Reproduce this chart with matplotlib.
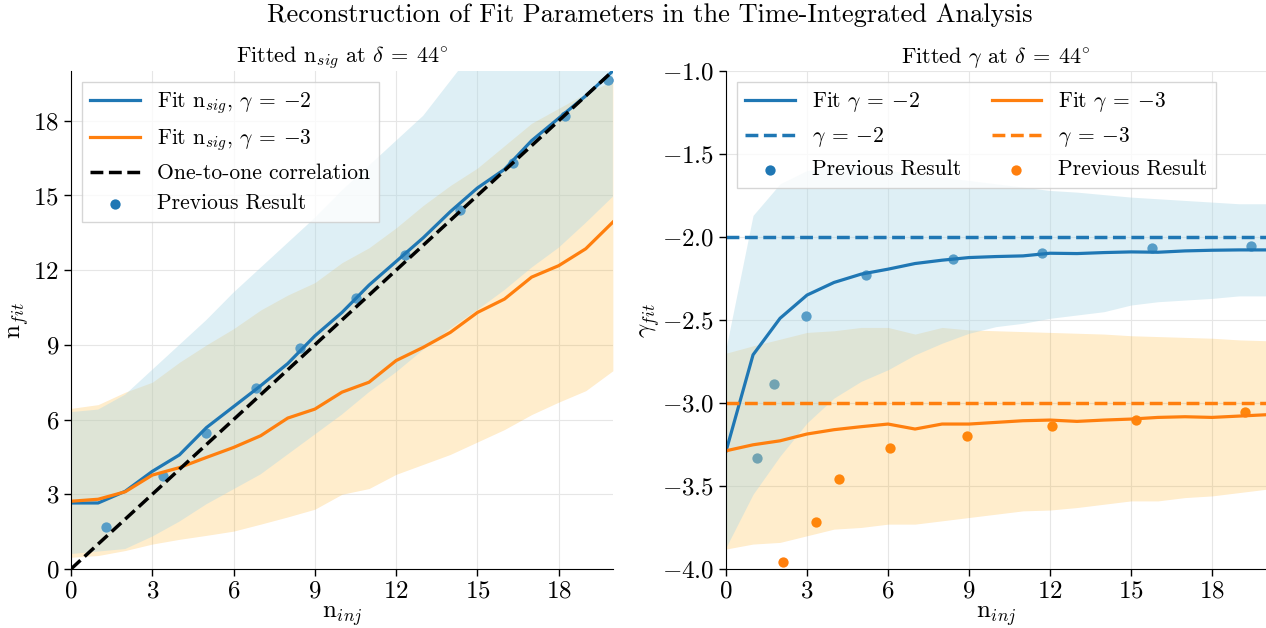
import numpy as np
import matplotlib
matplotlib.use("Agg")
import matplotlib.pyplot as plt

plt.rcParams['font.family'] = 'serif'
plt.rcParams['font.serif'] = ['cmr10']
plt.rcParams['mathtext.fontset'] = 'cm'
plt.rcParams['axes.formatter.use_mathtext'] = True

# injected signal events
n_inj = np.arange(0, 21)

# left panel: fitted n_sig
nsig_fit_g2 = [2.65, 2.65, 3.12, 3.92, 4.58, 5.68, 6.52, 7.36, 8.25, 9.36, 10.3,
               11.4, 12.35, 13.3, 14.35, 15.3, 16.05, 17.2, 18.1, 19.0, 20.0]
nsig_lo_g2 = [0.6, 0.7, 0.8, 1.3, 1.9, 2.6, 3.2, 3.8, 4.6, 5.4, 6.2,
              7.1, 7.9, 8.8, 9.65, 10.4, 11.2, 12.1, 12.9, 13.9, 14.95]
nsig_hi_g2 = [6.3, 6.4, 7.0, 8.0, 9.0, 10.0, 11.1, 12.1, 13.1, 14.1, 15.2,
              16.2, 17.2, 18.2, 19.6, 21.0, 22.0, 23.0, 24.0, 25.0, 26.0]
nsig_fit_g3 = [2.72, 2.8, 3.1, 3.77, 4.07, 4.48, 4.88, 5.35, 6.06, 6.42, 7.1,
               7.5, 8.37, 8.9, 9.5, 10.3, 10.84, 11.72, 12.18, 12.86, 13.93]
nsig_lo_g3 = [0.47, 0.54, 0.74, 1.0, 1.19, 1.35, 1.52, 1.8, 2.09, 2.4, 3.0,
              3.23, 3.8, 4.2, 4.6, 5.1, 5.6, 6.2, 6.7, 7.16, 7.96]
nsig_hi_g3 = [6.45, 6.6, 7.1, 7.5, 8.3, 9.0, 9.65, 10.4, 11.0, 11.5, 12.3,
              12.9, 13.7, 14.6, 15.4, 16.1, 17.0, 17.9, 18.5, 19.1, 19.6]
prev_nsig_x = [1.28, 3.39, 5.0, 6.83, 8.47, 10.52, 12.34, 14.35, 16.33, 18.24, 19.83]
prev_nsig_y = [1.7, 3.75, 5.46, 7.26, 8.88, 10.87, 12.6, 14.43, 16.29, 18.2, 19.64]

# right panel: fitted gamma
gamma_fit_g2 = [-3.29, -2.71, -2.49, -2.35, -2.274, -2.224, -2.194, -2.16, -2.14, -2.124, -2.118,
                -2.114, -2.098, -2.10, -2.094, -2.09, -2.092, -2.084, -2.08, -2.078, -2.078]
gamma_lo_g2 = [-3.87, -3.55, -3.32, -3.12, -2.97, -2.87, -2.80, -2.71, -2.64, -2.58, -2.54,
               -2.52, -2.49, -2.47, -2.45, -2.41, -2.39, -2.38, -2.37, -2.355, -2.355]
gamma_hi_g2 = [-2.67, -1.87, -1.68, -1.60, -1.58, -1.58, -1.60, -1.62, -1.64, -1.66, -1.68,
               -1.70, -1.72, -1.73, -1.745, -1.76, -1.77, -1.78, -1.79, -1.80, -1.80]
gamma_fit_g3 = [-3.288, -3.252, -3.228, -3.187, -3.161, -3.143, -3.127, -3.157, -3.127, -3.127, -3.117,
                -3.107, -3.103, -3.111, -3.103, -3.097, -3.087, -3.083, -3.087, -3.079, -3.071]
gamma_lo_g3 = [-3.88, -3.85, -3.84, -3.80, -3.76, -3.75, -3.73, -3.73, -3.71, -3.69, -3.67,
               -3.65, -3.645, -3.63, -3.61, -3.59, -3.59, -3.57, -3.56, -3.54, -3.52]
gamma_hi_g3 = [-2.70, -2.656, -2.616, -2.575, -2.565, -2.545, -2.545, -2.585, -2.545, -2.56, -2.565,
               -2.57, -2.575, -2.58, -2.585, -2.595, -2.6, -2.605, -2.61, -2.62, -2.625]
prev_g2_x = [1.15, 1.78, 2.97, 5.19, 8.42, 11.72, 15.79, 19.45]
prev_g2_y = [-3.33, -2.886, -2.479, -2.23, -2.13, -2.094, -2.066, -2.054]
prev_g3_x = [2.1, 3.32, 4.17, 6.09, 8.91, 12.08, 15.18, 19.24]
prev_g3_y = [-3.96, -3.72, -3.46, -3.27, -3.197, -3.14, -3.105, -3.057]

fig = plt.figure(figsize=(12.66, 6.28), dpi=100)
ax1 = fig.add_axes([0.0561, 0.094, 0.428, 0.793])
ax2 = fig.add_axes([0.5735, 0.094, 0.4265, 0.793])

for ax in (ax1, ax2):
    ax.grid(True, color='#e6e6e6', lw=0.8, zorder=0)
    ax.set_axisbelow(True)
    ax.spines['top'].set_visible(False)
    ax.spines['right'].set_visible(False)
    ax.tick_params(labelsize=18, direction='out', length=5, width=1)
    ax.set_xlim(0, 20)
    ax.set_xticks(np.arange(0, 19, 3))
    ax.set_xlabel(r'n$_{inj}$', fontsize=18, labelpad=1)

# left: orange band, points, blue band, lines on top
ax1.fill_between(n_inj, nsig_lo_g3, nsig_hi_g3, color='orange', alpha=0.2, lw=0, zorder=1)
ax1.scatter(prev_nsig_x, prev_nsig_y, color='tab:blue', s=55, lw=0, zorder=1,
            label='Previous Result')
ax1.fill_between(n_inj, nsig_lo_g2, nsig_hi_g2, color='lightblue', alpha=0.4, lw=0, zorder=1)
ax1.plot(n_inj, nsig_fit_g2, color='tab:blue', lw=2.3, label=r'Fit n$_{sig}$, $\gamma \:=\: -2$')
ax1.plot(n_inj, nsig_fit_g3, color='tab:orange', lw=2.3, label=r'Fit n$_{sig}$, $\gamma \:=\: -3$')
ax1.plot([0, 20], [0, 20], color='black', ls='--', lw=2.5, label='One-to-one correlation')
ax1.set_ylim(0, 20)
ax1.set_yticks(np.arange(0, 19, 3))
ax1.set_ylabel(r'n$_{fit}$', fontsize=18, labelpad=2)
ax1.set_title(r'Fitted n$_{sig}$ at $\delta \:=\: 44^{\circ}$', fontsize=16)
h, lab = ax1.get_legend_handles_labels()
ax1.legend(h[1:] + h[:1], lab[1:] + lab[:1], loc='upper left', fontsize=15.5, framealpha=0.8,
           edgecolor='#cccccc', fancybox=False, handlelength=2.3)

# right
h3 = ax2.scatter(prev_g2_x, prev_g2_y, color='tab:blue', s=55, lw=0, zorder=1,
                 label='Previous Result')
h6 = ax2.scatter(prev_g3_x, prev_g3_y, color='tab:orange', s=55, lw=0, zorder=1,
                 label='Previous Result')
ax2.fill_between(n_inj, gamma_lo_g3, gamma_hi_g3, color='orange', alpha=0.2, lw=0, zorder=1)
ax2.fill_between(n_inj, gamma_lo_g2, gamma_hi_g2, color='lightblue', alpha=0.4, lw=0, zorder=1)
h1, = ax2.plot(n_inj, gamma_fit_g2, color='tab:blue', lw=2.3, label=r'Fit $\gamma \:=\: -2$')
h2 = ax2.axhline(-2, color='tab:blue', ls='--', lw=2.5, label=r'$\gamma \:=\: -2$')
h4, = ax2.plot(n_inj, gamma_fit_g3, color='tab:orange', lw=2.3, label=r'Fit $\gamma \:=\: -3$')
h5 = ax2.axhline(-3, color='tab:orange', ls='--', lw=2.5, label=r'$\gamma \:=\: -3$')
ax2.set_ylim(-4, -1)
ax2.set_yticks(np.arange(-4, -0.99, 0.5))
ax2.yaxis.set_major_formatter(matplotlib.ticker.FormatStrFormatter(r'$%.1f$'))
ax2.set_ylabel(r'$\gamma_{fit}$', fontsize=18, labelpad=0)
ax2.set_title(r'Fitted $\gamma$ at $\delta \:=\: 44^{\circ}$', fontsize=16)
ax2.legend(handles=[h1, h2, h3, h4, h5, h6], loc='upper left', ncol=2, fontsize=15.5,
           framealpha=0.8, edgecolor='#cccccc', fancybox=False, handlelength=2.3,
           columnspacing=1.4)

fig.suptitle('Reconstruction of Fit Parameters in the Time-Integrated Analysis', fontsize=19,
             x=0.513, y=0.995)

fig.savefig('out.png', dpi=100)
